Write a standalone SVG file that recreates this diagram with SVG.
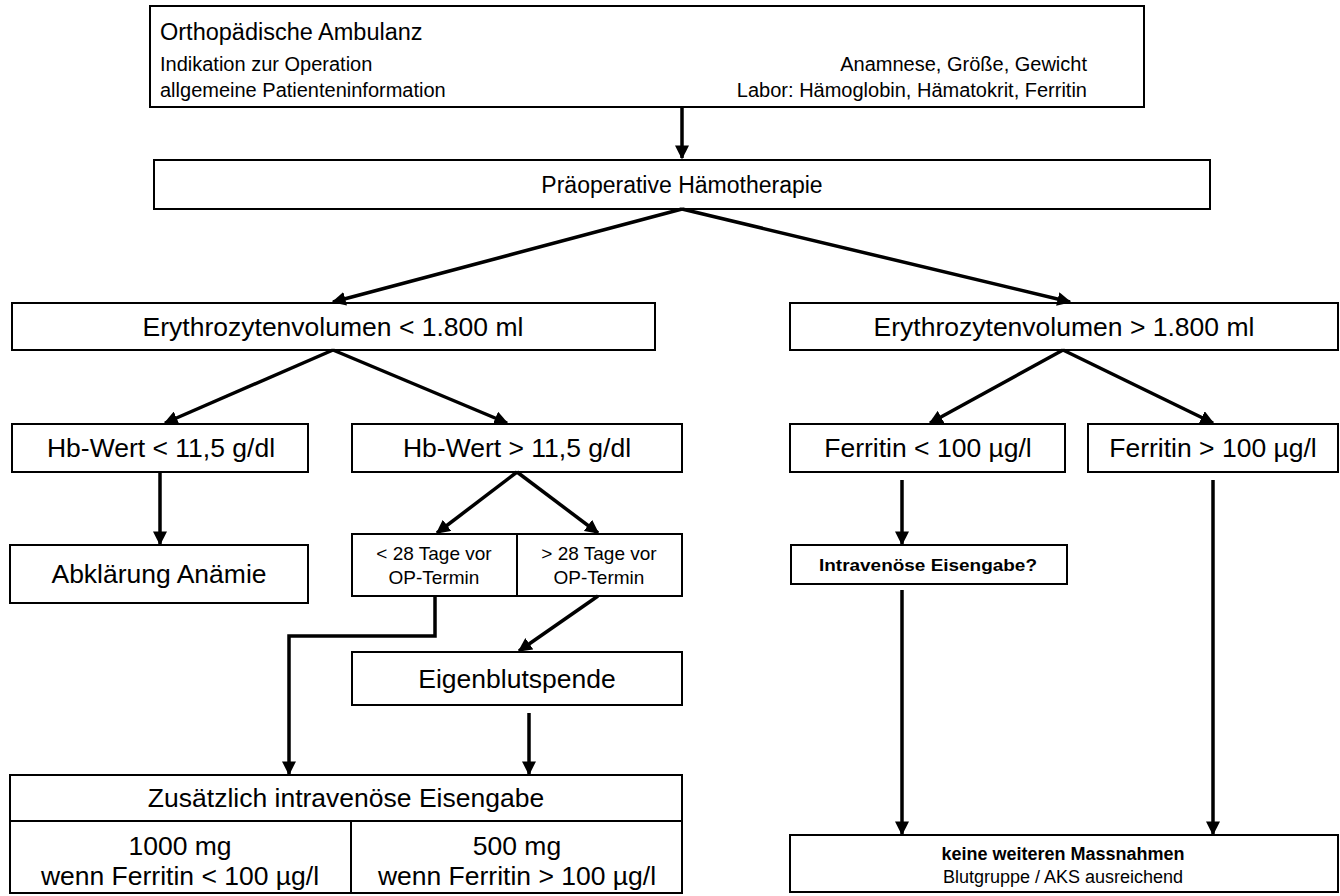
<svg xmlns="http://www.w3.org/2000/svg" width="1340" height="896" viewBox="0 0 1340 896">
<defs>
<style>
.box{fill:#fff;stroke:#000;stroke-width:2}
.t{font-family:"Liberation Sans",Arial,sans-serif;fill:#000}
.c{text-anchor:middle}
.e{text-anchor:end}
.n{font-size:26.5px}
.s{font-size:20px}
.sm{font-size:19px}
.con{fill:none;stroke:#000;stroke-width:3.5}
</style>
<marker id="ah" viewBox="0 0 10 10" refX="9" refY="5" markerWidth="4" markerHeight="4" orient="auto" markerUnits="strokeWidth">
<path d="M0,0 L10,5 L0,10 z" fill="#000"/>
</marker>
</defs>
<rect width="1340" height="896" fill="#fff"/>

<g id="ambulanz">
<rect class="box" x="150" y="6" width="994" height="101"/>
<text class="t" x="160" y="40" font-size="23.5">Orthopädische Ambulanz</text>
<text class="t s" x="160" y="71">Indikation zur Operation</text>
<text class="t s" x="160" y="97">allgemeine Patienteninformation</text>
<text class="t s e" x="1087" y="71">Anamnese, Größe, Gewicht</text>
<text class="t s e" x="1087" y="97">Labor: Hämoglobin, Hämatokrit, Ferritin</text>
</g>

<g id="haemotherapie">
<rect class="box" x="154" y="160" width="1056" height="49"/>
<text class="t c" x="682" y="193" font-size="23">Präoperative Hämotherapie</text>
</g>

<g id="ery-low">
<rect class="box" x="12" y="303" width="643" height="47"/>
<text class="t n c" x="333" y="336">Erythrozytenvolumen &lt; 1.800 ml</text>
</g>

<g id="ery-high">
<rect class="box" x="790" y="303" width="548" height="47"/>
<text class="t n c" x="1064" y="336">Erythrozytenvolumen &gt; 1.800 ml</text>
</g>

<g id="hb-low">
<rect class="box" x="12" y="424" width="296" height="48"/>
<text class="t n c" x="161" y="457">Hb-Wert &lt; 11,5 g/dl</text>
</g>

<g id="hb-high">
<rect class="box" x="352" y="424" width="330" height="48"/>
<text class="t n c" x="517" y="457">Hb-Wert &gt; 11,5 g/dl</text>
</g>

<g id="ferritin-low">
<rect class="box" x="790" y="424" width="275" height="48"/>
<text class="t n c" x="928" y="457">Ferritin &lt; 100 µg/l</text>
</g>

<g id="ferritin-high">
<rect class="box" x="1088" y="424" width="250" height="48"/>
<text class="t n c" x="1213" y="457">Ferritin &gt; 100 µg/l</text>
</g>

<g id="abklaerung">
<rect class="box" x="10" y="545" width="298" height="58"/>
<text class="t n c" x="159" y="583">Abklärung Anämie</text>
</g>

<g id="lt28">
<rect class="box" x="352" y="534" width="165" height="62"/>
<text class="t sm c" x="434" y="560">&lt; 28 Tage vor</text>
<text class="t sm c" x="434" y="584">OP-Termin</text>
</g>

<g id="gt28">
<rect class="box" x="517" y="534" width="165" height="62"/>
<text class="t sm c" x="599" y="560">&gt; 28 Tage vor</text>
<text class="t sm c" x="599" y="584">OP-Termin</text>
</g>

<g id="intravenoes">
<rect class="box" x="791" y="545" width="276" height="39"/>
<text class="t c" x="928" y="571" font-size="17" font-weight="bold" textLength="218" lengthAdjust="spacingAndGlyphs">Intravenöse Eisengabe?</text>
</g>

<g id="eigenblut">
<rect class="box" x="352" y="652" width="330" height="53"/>
<text class="t n c" x="517" y="688">Eigenblutspende</text>
</g>

<g id="zusaetzlich">
<rect class="box" x="10" y="775" width="672" height="118"/>
<line x1="10" y1="821" x2="682" y2="821" stroke="#000" stroke-width="2"/>
<line x1="351" y1="821" x2="351" y2="893" stroke="#000" stroke-width="2"/>
<text class="t n c" x="346" y="807">Zusätzlich intravenöse Eisengabe</text>
<text class="t n c" x="180" y="855">1000 mg</text>
<text class="t n c" x="180" y="885">wenn Ferritin &lt; 100 µg/l</text>
<text class="t n c" x="517" y="855">500 mg</text>
<text class="t n c" x="517" y="885">wenn Ferritin &gt; 100 µg/l</text>
</g>

<g id="keine">
<rect class="box" x="790" y="835" width="548" height="57"/>
<text class="t c" x="1063" y="860" font-size="18" font-weight="bold">keine weiteren Massnahmen</text>
<text class="t c" x="1063" y="883" font-size="18">Blutgruppe / AKS ausreichend</text>
</g>

<g id="connectors">
<line class="con" x1="682" y1="107" x2="682" y2="158" marker-end="url(#ah)"/>
<line class="con" x1="682" y1="209" x2="333" y2="302" marker-end="url(#ah)"/>
<line class="con" x1="682" y1="209" x2="1070" y2="302" marker-end="url(#ah)"/>
<line class="con" x1="333" y1="350" x2="165" y2="423" marker-end="url(#ah)"/>
<line class="con" x1="333" y1="350" x2="507" y2="423" marker-end="url(#ah)"/>
<line class="con" x1="1063" y1="350" x2="930" y2="423" marker-end="url(#ah)"/>
<line class="con" x1="1063" y1="350" x2="1213" y2="423" marker-end="url(#ah)"/>
<line class="con" x1="160" y1="472" x2="160" y2="544" marker-end="url(#ah)"/>
<line class="con" x1="517" y1="472" x2="437" y2="533" marker-end="url(#ah)"/>
<line class="con" x1="517" y1="472" x2="598" y2="533" marker-end="url(#ah)"/>
<line class="con" x1="902" y1="480" x2="902" y2="544" marker-end="url(#ah)"/>
<line class="con" x1="902" y1="590" x2="902" y2="834" marker-end="url(#ah)"/>
<line class="con" x1="1213" y1="480" x2="1213" y2="834" marker-end="url(#ah)"/>
<polyline class="con" points="435,596 435,636 289,636 289,774" marker-end="url(#ah)"/>
<line class="con" x1="598" y1="596" x2="519" y2="651" marker-end="url(#ah)"/>
<line class="con" x1="529" y1="713" x2="529" y2="774" marker-end="url(#ah)"/>
</g>
</svg>
